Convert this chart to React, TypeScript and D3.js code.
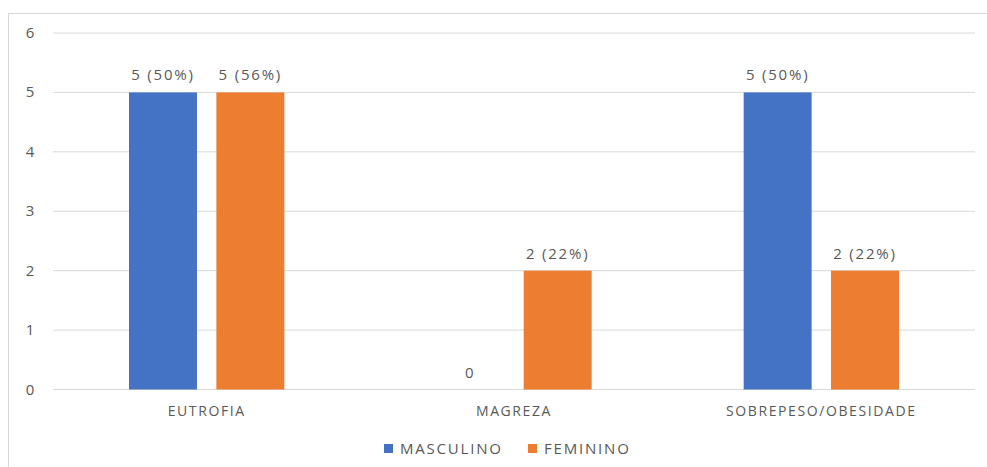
import * as d3 from 'd3';

const categories = ['EUTROFIA', 'MAGREZA', 'SOBREPESO/OBESIDADE'];
const seriesNames = ['MASCULINO', 'FEMININO'];
const colors = ['#4472C4', '#ED7D31'];
const masculino = [5, 0, 5];
const feminino = [5, 2, 2];
const masculinoLabels = ['5 (50%)', '0', '5 (50%)'];
const femininoLabels = ['5 (56%)', '2 (22%)', '2 (22%)'];
const yTicks = [0, 1, 2, 3, 4, 5, 6];

export default function App() {
  const W = 987;
  const H = 467;
  const plot = { left: 53, right: 975, top: 33, bottom: 389.5 };
  const font = '"Open Sans", "Liberation Sans", sans-serif';
  const textColor = '#595959';

  const x0 = d3.scaleBand<string>()
    .domain(categories)
    .range([plot.left, plot.right]);
  const x1 = d3.scaleBand<string>()
    .domain(seriesNames)
    .range([0, x0.bandwidth()])
    .paddingInner(0.222)
    .paddingOuter(0.87);
  const y = d3.scaleLinear().domain([0, 6]).range([plot.bottom, plot.top]);

  const series = [
    { name: seriesNames[0], values: masculino, labels: masculinoLabels, color: colors[0] },
    { name: seriesNames[1], values: feminino, labels: femininoLabels, color: colors[1] },
  ];

  const legendX = [384, 528];

  return (
    <svg
      width={W}
      height={H}
      style={{ position: 'absolute', left: 0, top: 0, background: '#fff' }}
      fontFamily={font}
    >
      <rect x={8.5} y={13.5} width={1000} height={480} fill="#fff" stroke="#d9d9d9" />
      {yTicks.map(t => (
        <g key={t}>
          <line x1={plot.left} x2={plot.right} y1={y(t)} y2={y(t)} stroke="#d9d9d9" strokeWidth={1} />
          <text x={30} y={y(t) + 5} fontSize={15} fill={textColor} textAnchor="middle">
            {t}
          </text>
        </g>
      ))}
      {series.map(s => (
        <g key={s.name}>
          {categories.map((c, i) => {
            const bx = (x0(c) ?? 0) + (x1(s.name) ?? 0);
            const bw = x1.bandwidth();
            return (
              <g key={c}>
                {s.values[i] > 0 && (
                  <rect x={bx} y={y(s.values[i])} width={bw} height={y(0) - y(s.values[i])} fill={s.color} />
                )}
                <text
                  x={bx + bw / 2}
                  y={y(s.values[i]) - 12}
                  fontSize={15}
                  fill={textColor}
                  textAnchor="middle"
                  letterSpacing={1.8}
                >
                  {s.labels[i]}
                </text>
              </g>
            );
          })}
        </g>
      ))}
      {categories.map(c => (
        <text
          key={c}
          x={(x0(c) ?? 0) + x0.bandwidth() / 2}
          y={416}
          fontSize={14}
          fill={textColor}
          textAnchor="middle"
          letterSpacing={1.6}
        >
          {c}
        </text>
      ))}
      {series.map((s, i) => (
        <g key={s.name} transform={`translate(${legendX[i]}, 444)`}>
          <rect x={0} y={0} width={9} height={9} fill={s.color} />
          <text x={16} y={10} fontSize={15} fill={textColor} letterSpacing={1.8}>
            {s.name}
          </text>
        </g>
      ))}
    </svg>
  );
}
